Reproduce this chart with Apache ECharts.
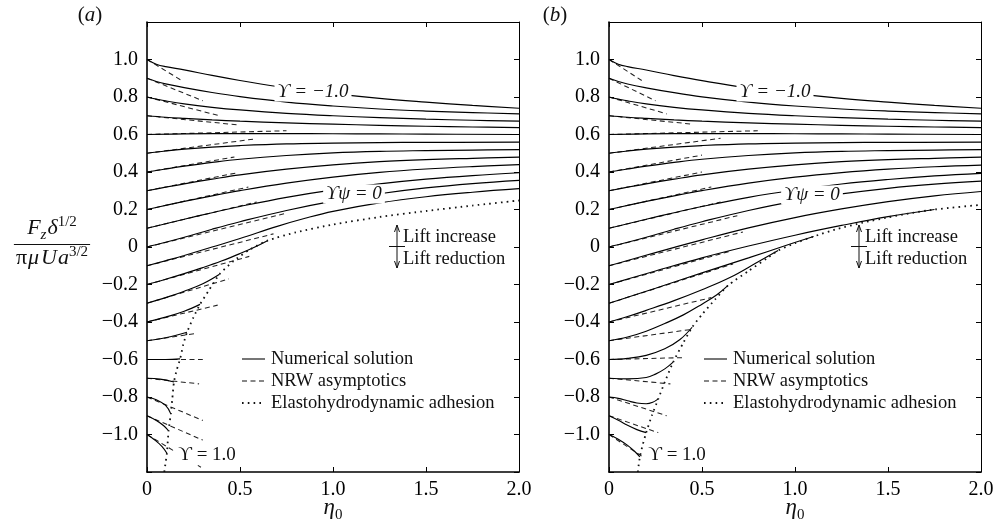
<!DOCTYPE html>
<html>
<head>
<meta charset="utf-8">
<script src="https://cdn.jsdelivr.net/npm/echarts@6/dist/echarts.min.js"></script>
<style>
  html, body { margin: 0; padding: 0; background: #fff; }
  #chart { width: 1003px; height: 531px; }
</style>
</head>
<body>
<div id="chart"></div>
<script>
// tick labels
const xTickLabels = ["0", "0.5", "1.0", "1.5", "2.0"];
const yTickLabels = ["", "\u22121.0", "\u22120.8", "\u22120.6", "\u22120.4", "\u22120.2", "0", "0.2", "0.4", "0.6", "0.8", "1.0", ""];

// panel (a): numerical solution, one curve per Upsilon = -1.0 ... 1.0
const solidA = [
    [[0, 1.0], [0.05, 0.975], [0.1, 0.962], [0.2, 0.945], [0.35, 0.915], [0.5, 0.888], [0.75, 0.848], [1.0, 0.818], [1.25, 0.793], [1.5, 0.773], [1.75, 0.755], [2.0, 0.740]],
    [[0, 0.9], [0.05, 0.883], [0.1, 0.87], [0.2, 0.85], [0.35, 0.824], [0.5, 0.802], [0.75, 0.773], [1.0, 0.752], [1.25, 0.736], [1.5, 0.725], [1.75, 0.717], [2.0, 0.710]],
    [[0, 0.8], [0.05, 0.789], [0.1, 0.779], [0.2, 0.763], [0.35, 0.745], [0.5, 0.731], [0.75, 0.713], [1.0, 0.70], [1.25, 0.69], [1.5, 0.682], [1.75, 0.676], [2.0, 0.671]],
    [[0, 0.7], [0.1, 0.692], [0.2, 0.686], [0.35, 0.678], [0.5, 0.671], [0.75, 0.662], [1.0, 0.655], [1.25, 0.649], [1.5, 0.644], [1.75, 0.64], [2.0, 0.637]],
    [[0, 0.6], [0.2, 0.603], [0.5, 0.605], [0.75, 0.605], [1.0, 0.604], [1.25, 0.603], [1.5, 0.602], [2.0, 0.600]],
    [[0, 0.5], [0.1, 0.512], [0.2, 0.522], [0.35, 0.533], [0.5, 0.541], [0.75, 0.55], [1.0, 0.554], [1.25, 0.557], [1.5, 0.558], [2.0, 0.559]],
    [[0, 0.4], [0.1, 0.416], [0.2, 0.431], [0.35, 0.451], [0.5, 0.468], [0.75, 0.488], [1.0, 0.502], [1.25, 0.51], [1.5, 0.514], [1.75, 0.517], [2.0, 0.519]],
    [[0, 0.3], [0.1, 0.319], [0.2, 0.337], [0.35, 0.362], [0.5, 0.385], [0.75, 0.415], [1.0, 0.438], [1.25, 0.455], [1.5, 0.466], [1.75, 0.473], [2.0, 0.479]],
    [[0, 0.2], [0.1, 0.222], [0.2, 0.243], [0.35, 0.273], [0.5, 0.301], [0.75, 0.341], [1.0, 0.373], [1.25, 0.398], [1.5, 0.416], [1.75, 0.429], [2.0, 0.439]],
    [[0, 0.1], [0.1, 0.124], [0.2, 0.148], [0.35, 0.183], [0.5, 0.216], [0.75, 0.265], [1.0, 0.305], [1.25, 0.337], [1.5, 0.362], [1.75, 0.381], [2.0, 0.396]],
    [[0, 0], [0.1, 0.025], [0.2, 0.052], [0.35, 0.095], [0.5, 0.135], [0.75, 0.195], [1.0, 0.245], [1.25, 0.284], [1.5, 0.315], [1.75, 0.338], [2.0, 0.355]],
    [[0, -0.1], [0.1, -0.073], [0.2, -0.045], [0.35, 0.0], [0.5, 0.045], [0.7, 0.11], [0.85, 0.153], [1.0, 0.19], [1.25, 0.235], [1.5, 0.268], [1.75, 0.292], [2.0, 0.311]],
    [[0, -0.2], [0.1, -0.172], [0.2, -0.142], [0.3, -0.11], [0.4, -0.075], [0.5, -0.035], [0.58, 0.0], [0.65, 0.035]],
    [[0, -0.3], [0.1, -0.27], [0.2, -0.236], [0.3, -0.196], [0.39, -0.145]],
    [[0, -0.4], [0.1, -0.374], [0.2, -0.343], [0.285, -0.306]],
    [[0, -0.5], [0.1, -0.484], [0.215, -0.455]],
    [[0, -0.6], [0.1, -0.6], [0.178, -0.597]],
    [[0, -0.7], [0.07, -0.705], [0.145, -0.72]],
    [[0, -0.8], [0.05, -0.815], [0.1, -0.845], [0.128, -0.89]],
    [[0, -0.9], [0.05, -0.925], [0.09, -0.953], [0.116, -0.98]],
    [[0, -1.0], [0.04, -1.028], [0.08, -1.063], [0.107, -1.1]]
];

// panel (a): NRW asymptotics (straight segments)
const dashA = [
    [[0, 1.0], [0.19, 0.886]], [[0, 0.9], [0.30, 0.78]], [[0, 0.8], [0.39, 0.70]],
    [[0, 0.7], [0.50, 0.65]], [[0, 0.6], [0.75, 0.62]], [[0, 0.5], [0.57, 0.575]],
    [[0, 0.4], [0.47, 0.48]], [[0, 0.3], [0.48, 0.395]], [[0, 0.2], [0.545, 0.32]],
    [[0, 0.1], [0.59, 0.24]], [[0, 0], [0.75, 0.18]], [[0, -0.1], [0.68, 0.07]],
    [[0, -0.2], [0.55, -0.05]], [[0, -0.3], [0.44, -0.17]], [[0, -0.4], [0.38, -0.31]],
    [[0, -0.5], [0.27, -0.46]], [[0, -0.6], [0.30, -0.6]], [[0, -0.7], [0.28, -0.73]],
    [[0, -0.8], [0.30, -0.925]], [[0, -0.9], [0.30, -1.03]], [[0, -1.0], [0.29, -1.175]]
];

// panel (a): elastohydrodynamic adhesion
const dotA = [[0.093, -1.2], [0.1, -1.15], [0.107, -1.1], [0.116, -0.98], [0.128, -0.89], [0.136, -0.81], [0.145, -0.72], [0.16, -0.655], [0.178, -0.597], [0.195, -0.52], [0.215, -0.455], [0.25, -0.375], [0.285, -0.306], [0.33, -0.235], [0.39, -0.145], [0.465, -0.075], [0.55, -0.015], [0.65, 0.035], [0.8, 0.078], [1.0, 0.12], [1.25, 0.16], [1.5, 0.192], [1.75, 0.221], [2.0, 0.248]];

// panel (b): numerical solution
const solidB = [
    [[0, 1.0], [0.05, 0.975], [0.1, 0.962], [0.2, 0.944], [0.35, 0.914], [0.5, 0.887], [0.75, 0.848], [1.0, 0.818], [1.25, 0.793], [1.5, 0.773], [1.75, 0.755], [2.0, 0.740]],
    [[0, 0.9], [0.05, 0.883], [0.1, 0.869], [0.2, 0.849], [0.35, 0.823], [0.5, 0.801], [0.75, 0.773], [1.0, 0.752], [1.25, 0.736], [1.5, 0.725], [1.75, 0.717], [2.0, 0.710]],
    [[0, 0.8], [0.05, 0.789], [0.1, 0.779], [0.2, 0.763], [0.35, 0.745], [0.5, 0.731], [0.75, 0.713], [1.0, 0.70], [1.25, 0.69], [1.5, 0.682], [1.75, 0.676], [2.0, 0.671]],
    [[0, 0.7], [0.1, 0.692], [0.2, 0.686], [0.35, 0.678], [0.5, 0.671], [0.75, 0.662], [1.0, 0.655], [1.25, 0.649], [1.5, 0.644], [1.75, 0.64], [2.0, 0.637]],
    [[0, 0.6], [0.2, 0.603], [0.5, 0.605], [0.75, 0.605], [1.0, 0.604], [1.25, 0.603], [1.5, 0.602], [2.0, 0.600]],
    [[0, 0.5], [0.1, 0.512], [0.2, 0.522], [0.35, 0.533], [0.5, 0.541], [0.75, 0.55], [1.0, 0.554], [1.25, 0.557], [1.5, 0.558], [2.0, 0.559]],
    [[0, 0.4], [0.1, 0.416], [0.2, 0.431], [0.35, 0.451], [0.5, 0.468], [0.75, 0.488], [1.0, 0.502], [1.25, 0.51], [1.5, 0.514], [1.75, 0.517], [2.0, 0.519]],
    [[0, 0.3], [0.1, 0.319], [0.2, 0.337], [0.35, 0.362], [0.5, 0.385], [0.75, 0.415], [1.0, 0.438], [1.25, 0.455], [1.5, 0.466], [1.75, 0.473], [2.0, 0.479]],
    [[0, 0.2], [0.1, 0.222], [0.2, 0.243], [0.35, 0.273], [0.5, 0.301], [0.75, 0.341], [1.0, 0.373], [1.25, 0.397], [1.5, 0.415], [1.75, 0.428], [2.0, 0.437]],
    [[0, 0.1], [0.1, 0.124], [0.2, 0.148], [0.35, 0.183], [0.5, 0.216], [0.75, 0.265], [1.0, 0.304], [1.25, 0.336], [1.5, 0.36], [1.75, 0.379], [2.0, 0.393]],
    [[0, 0], [0.1, 0.025], [0.2, 0.052], [0.35, 0.095], [0.5, 0.135], [0.75, 0.195], [1.0, 0.245], [1.25, 0.283], [1.5, 0.313], [1.75, 0.335], [2.0, 0.351]],
    [[0, -0.1], [0.1, -0.072], [0.25, -0.03], [0.5, 0.038], [0.75, 0.102], [1.0, 0.157], [1.25, 0.203], [1.5, 0.242], [1.75, 0.273], [2.0, 0.296]],
    [[0, -0.2], [0.1, -0.171], [0.25, -0.128], [0.5, -0.058], [0.75, 0.005], [1.0, 0.063], [1.25, 0.115], [1.5, 0.162], [1.75, 0.2]],
    [[0, -0.3], [0.1, -0.268], [0.25, -0.22], [0.5, -0.138], [0.75, -0.058], [0.95, 0.008], [1.1, 0.056]],
    [[0, -0.4], [0.1, -0.371], [0.2, -0.338], [0.35, -0.286], [0.5, -0.228], [0.65, -0.163], [0.8, -0.08], [0.909, -0.019]],
    [[0, -0.5], [0.1, -0.48], [0.2, -0.449], [0.3, -0.408], [0.4, -0.362], [0.5, -0.305], [0.58, -0.255], [0.64, -0.205]],
    [[0, -0.6], [0.1, -0.594], [0.2, -0.578], [0.3, -0.543], [0.38, -0.495], [0.447, -0.428]],
    [[0, -0.7], [0.1, -0.703], [0.2, -0.696], [0.25, -0.678], [0.3, -0.65], [0.345, -0.614]],
    [[0, -0.8], [0.05, -0.807], [0.1, -0.82], [0.15, -0.832], [0.2, -0.836], [0.235, -0.828], [0.265, -0.81]],
    [[0, -0.9], [0.05, -0.924], [0.1, -0.951], [0.15, -0.974], [0.2, -0.99]],
    [[0, -1.0], [0.05, -1.025], [0.1, -1.058], [0.14, -1.092], [0.166, -1.12]]
];

// panel (b): NRW asymptotics
const dashB = [
    [[0, 1.0], [0.176, 0.888]], [[0, 0.9], [0.25, 0.78]], [[0, 0.8], [0.31, 0.71]],
    [[0, 0.7], [0.45, 0.655]], [[0, 0.6], [0.80, 0.62]], [[0, 0.5], [0.60, 0.58]],
    [[0, 0.4], [0.50, 0.49]], [[0, 0.3], [0.50, 0.40]], [[0, 0.2], [0.55, 0.32]],
    [[0, 0.1], [0.60, 0.24]], [[0, 0], [0.69, 0.167]], [[0, -0.1], [0.72, 0.08]],
    [[0, -0.2], [0.66, -0.02]], [[0, -0.3], [0.667, -0.09]], [[0, -0.4], [0.55, -0.27]],
    [[0, -0.5], [0.44, -0.44]], [[0, -0.6], [0.40, -0.59]], [[0, -0.7], [0.33, -0.73]],
    [[0, -0.8], [0.31, -0.90]], [[0, -0.9], [0.265, -0.99]], [[0, -1.0], [0.19, -1.125]]
];

// panel (b): elastohydrodynamic adhesion
const dotB = [[0.155, -1.2], [0.16, -1.16], [0.166, -1.12], [0.18, -1.06], [0.2, -0.99], [0.23, -0.9], [0.265, -0.81], [0.3, -0.72], [0.345, -0.614], [0.4, -0.51], [0.447, -0.428], [0.5, -0.36], [0.57, -0.28], [0.64, -0.205], [0.75, -0.128], [0.85, -0.06], [0.909, -0.019], [1.0, 0.02], [1.1, 0.056], [1.23, 0.097], [1.365, 0.13], [1.5, 0.158], [1.6, 0.177], [1.75, 0.2], [2.0, 0.225]];

const FONT = "'Liberation Serif', 'DejaVu Serif', 'Times New Roman', serif";
const INK = "#111";
const GRIDS = [
    { left: 147, top: 22, width: 372, height: 450 },
    { left: 609, top: 22, width: 372, height: 450 }
];

const measureCtx = document.createElement("canvas").getContext("2d");
function textWidth(t, size, italic) {
    measureCtx.font = (italic ? "italic " : "") + size + "px " + FONT;
    return measureCtx.measureText(t).width;
}

// lays out a run of math tokens centred on cx, on the given baseline
function mathRun(tokens, cx, baseline) {
    const widths = tokens.map(function (k) { return textWidth(k.t, k.s, k.i) + (k.gap || 0); });
    const total = widths.reduce(function (a, b) { return a + b; }, 0);
    let x = cx - total / 2;
    const out = [];
    tokens.forEach(function (k, n) {
        out.push({
            type: "text", z: 100, silent: true,
            style: {
                text: k.t, x: x, y: baseline + (k.dy || 0) - 0.34 * k.s,
                fontSize: k.s, fontStyle: k.i ? "italic" : "normal", fontFamily: FONT,
                fill: INK, textAlign: "left", textVerticalAlign: "middle"
            }
        });
        x += widths[n];
    });
    return { items: out, width: total };
}

function label(text, x, y, opts) {
    opts = opts || {};
    return {
        type: "text", z: 100, silent: true,
        style: {
            text: text, x: x, y: y,
            fontSize: opts.size || 19, fontStyle: opts.italic ? "italic" : "normal",
            fontFamily: FONT, fill: INK,
            textAlign: opts.align || "center", textVerticalAlign: "middle",
            backgroundColor: opts.bg ? "#fff" : undefined,
            padding: opts.bg ? [0, 3, 0, 3] : 0
        }
    };
}

function seg(x1, y1, x2, y2, dash, width) {
    return {
        type: "line", z: 100, silent: true,
        shape: { x1: x1, y1: y1, x2: x2, y2: y2 },
        style: { stroke: INK, lineWidth: width || 1, lineDash: dash || null }
    };
}

function panelDecor(g, tag, tagX) {
    const L = GRIDS[g].left;
    const items = [];
    // panel tag
    items.push(mathRun([{ t: "(", s: 21 }, { t: tag, s: 21, i: true }, { t: ")", s: 21 }], tagX, 23).items);
    // x axis name
    items.push(mathRun([{ t: "\u03b7", s: 23, i: true }, { t: "0", s: 15, dy: 4 }], L + 186, 516).items);
    // legend
    const lx = L + 95, lx2 = L + 118, tx = L + 124;
    items.push([seg(lx, 359, lx2, 359, null, 1.15)]);
    items.push([seg(lx, 381, lx2, 381, [5, 3.5], 1.05)]);
    items.push([seg(lx, 403, lx2, 403, [1.6, 4.2], 1.8)]);
    items.push([label("Numerical solution", tx, 359, { size: 18.5, align: "left" })]);
    items.push([label("NRW asymptotics", tx, 381, { size: 18.5, align: "left" })]);
    items.push([label("Elastohydrodynamic adhesion", tx, 403, { size: 18.5, align: "left" })]);
    // lift arrow
    const ax = L + 250, y0 = 246.5;
    items.push([
        seg(ax, 225, ax, 268, null, 1),
        seg(ax - 8, y0, ax + 8, y0, null, 1),
        seg(ax, 225, ax - 2.5, 232, null, 1), seg(ax, 225, ax + 2.5, 232, null, 1),
        seg(ax, 268, ax - 2.5, 261, null, 1), seg(ax, 268, ax + 2.5, 261, null, 1),
        label("Lift increase", ax + 6, 237, { size: 18.5, align: "left" }),
        label("Lift reduction", ax + 6, 259, { size: 18.5, align: "left" })
    ]);
    return [].concat.apply([], items);
}

function curveLabels(g, topY, psiX, psiY, oneX) {
    const L = GRIDS[g].left;
    return [
        label("\u03d2 = \u22121.0", L + 166, topY, { italic: true, bg: true }),
        label("\u03d2\u03c8 = 0", psiX, psiY, { italic: true, bg: true }),
        label("\u03d2 = 1.0", oneX, 455, { bg: true })
    ];
}

// y axis title: F_z delta^(1/2) / (pi mu U a^(3/2))
function yTitle() {
    const cx = 52;
    const num = mathRun([
        { t: "F", s: 22, i: true }, { t: "z", s: 15, i: true, dy: 4, gap: 1 },
        { t: "\u03b4", s: 22, i: true }, { t: "1/2", s: 15, dy: -9 }
    ], cx, 236);
    const den = mathRun([
        { t: "\u03c0", s: 22, gap: 1 }, { t: "\u03bc", s: 22, i: true, gap: 2 },
        { t: "U", s: 22, i: true, gap: 1 }, { t: "a", s: 22, i: true }, { t: "3/2", s: 15, dy: -9 }
    ], cx, 266);
    const w = Math.max(num.width, den.width) + 4;
    return num.items.concat(den.items, [seg(cx - w / 2, 244.5, cx + w / 2, 244.5, null, 1)]);
}

function xAxisFor(g, top) {
    return {
        gridIndex: g, type: "value", min: 0, max: 2, interval: 0.5,
        position: top ? "top" : "bottom",
        axisLine: { show: true, onZero: false, lineStyle: { color: "#000", width: top ? 1 : 1.6 } },
        axisTick: { show: true, inside: true, length: 5, lineStyle: { color: "#000", width: 1 } },
        axisLabel: {
            show: !top, margin: 8, color: "#000", fontSize: 20, fontFamily: FONT,
            formatter: function (v) { return xTickLabels[Math.round(v / 0.5)] || ""; }
        },
        splitLine: { show: false }
    };
}

function yAxisFor(g, right) {
    return {
        gridIndex: g, type: "value", min: -1.2, max: 1.2, interval: 0.2,
        position: right ? "right" : "left",
        axisLine: { show: true, onZero: false, lineStyle: { color: "#000", width: right ? 1 : 1.6 } },
        axisTick: { show: true, inside: true, length: 5, lineStyle: { color: "#000", width: 1 } },
        axisLabel: {
            show: !right, margin: 9, color: "#000", fontSize: 20, fontFamily: FONT,
            formatter: function (v) { return yTickLabels[Math.round((v + 1.2) / 0.2)] || ""; }
        },
        splitLine: { show: false }
    };
}

function lineSeries(list, g, lineStyle, smooth) {
    return list.map(function (d) {
        return {
            type: "line", xAxisIndex: g * 2, yAxisIndex: g * 2, data: d,
            showSymbol: false, symbol: "none", smooth: smooth, silent: true,
            lineStyle: lineStyle, z: 2
        };
    });
}

const solidStyle = { color: "#000", width: 1.15 };
const dashStyle = { color: "#222", width: 1.05, type: [5, 3.5] };
const dotStyle = { color: "#111", width: 1.8, type: [1.6, 4.2] };

const series = [].concat(
    lineSeries(dashA, 0, dashStyle, false),
    lineSeries(solidA, 0, solidStyle, 0.4),
    lineSeries([dotA], 0, dotStyle, 0.2),
    lineSeries(dashB, 1, dashStyle, false),
    lineSeries(solidB, 1, solidStyle, 0.4),
    lineSeries([dotB], 1, dotStyle, 0.2)
);

const chart = echarts.init(document.getElementById("chart"), null, { renderer: "canvas" });
chart.setOption({
    animation: false,
    backgroundColor: "#fff",
    grid: GRIDS,
    xAxis: [xAxisFor(0, false), xAxisFor(0, true), xAxisFor(1, false), xAxisFor(1, true)],
    yAxis: [yAxisFor(0, false), yAxisFor(0, true), yAxisFor(1, false), yAxisFor(1, true)],
    series: series,
    graphic: [].concat(
        yTitle(),
        panelDecor(0, "a", 90),
        panelDecor(1, "b", 555),
        curveLabels(0, 92, 354, 194, 207),
        curveLabels(1, 92, 812, 195, 677)
    )
});

window.addEventListener("resize", function () {
    chart.resize();
});
</script>
</body>
</html>
